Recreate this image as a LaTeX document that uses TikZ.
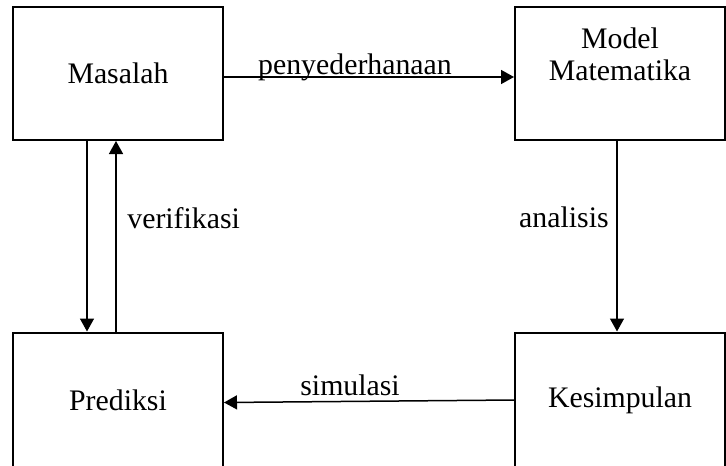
\documentclass[tikz,border=0pt]{standalone}
\usepackage{fontspec}
\setmainfont{Liberation Serif}
\usetikzlibrary{arrows.meta}
\tikzset{
every node/.style={font=\fontsize{14.9}{16}\selectfont},
box/.style={rectangle, draw, line width=1pt, minimum width=105pt, minimum height=66.5pt, inner sep=0pt, align=center},
lbl/.style={rectangle, draw=none, inner sep=0pt},
flow/.style={-{Triangle[length=6.5pt,width=7pt]}, line width=0.75pt}
}
\begin{document}
\begin{tikzpicture}[x=0.5pt,y=-0.5pt]
\useasboundingbox (0,0) rectangle (726,465);
\node [box] (Masalah) at (118,73.5) {Masalah};
\node [box] (Model) at (620,73.5) {Model\\Matematika\\[3pt]~};
\node [box, minimum height=67.5pt] (Prediksi) at (118,400) {Prediksi};
\node [box, minimum height=67.5pt] (Kesimpulan) at (620,400) {Kesimpulan};

\node [lbl, anchor=base] (penyederhanaan) at (355,75) {penyederhanaan};
\node [lbl, anchor=base west] (verifikasi) at (127,228) {verifikasi};
\node [lbl, anchor=base east] (analisis) at (609,227) {analisis};
\node [lbl, anchor=base west] (simulasi) at (300,395) {simulasi};

\draw[flow] ([yshift=-1.75pt]Masalah.east) -- ([yshift=-1.75pt]Model.west);
\draw[flow] ([xshift=-15.5pt]Masalah.south) -- ([xshift=-15.5pt]Prediksi.north);
\draw[flow] ([xshift=-1pt]Prediksi.north) -- ([xshift=-1pt]Masalah.south);
\draw[flow] ([xshift=-1.5pt]Model.south) -- ([xshift=-1.5pt]Kesimpulan.north);
\draw[flow] ([yshift=0pt]Kesimpulan.west) -- ([yshift=-1.25pt]Prediksi.east);
\end{tikzpicture}
\end{document}
